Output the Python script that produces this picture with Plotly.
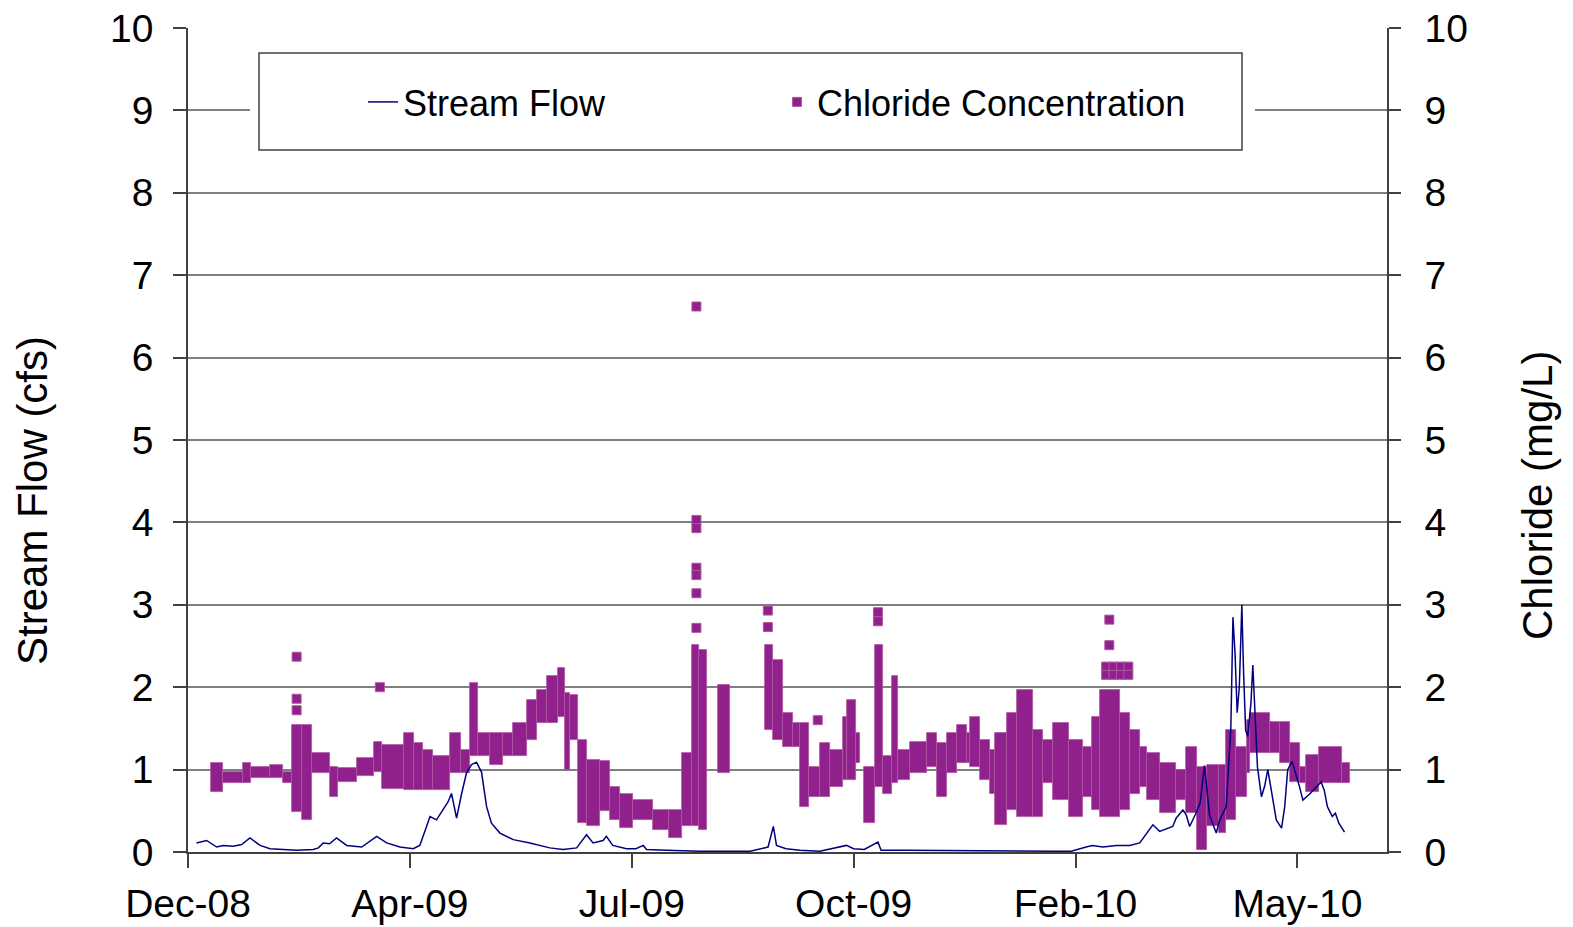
import pandas as pd
import plotly.graph_objects as go

# ---------------- data (days counted from 2008-12-20) ----------------
START = pd.Timestamp("2008-12-20")
END_DAY = 567.4

tick_dates = ["2008-12-20", "2009-04-04", "2009-07-18", "2009-10-31", "2010-02-13", "2010-05-29"]
tick_text = ["Dec-08", "Apr-09", "Jul-09", "Oct-09", "Feb-10", "May-10"]
y_ticks = [0, 1, 2, 3, 4, 5, 6, 7, 8, 9, 10]

# Stream flow (cfs)
flow_days = [4, 8.8, 13.6, 16.7, 21.4, 25.4, 29.3, 34.1, 38.8, 43.5,
             51.4, 59.3, 61.7, 64, 67, 70.3, 75.1, 82.2, 89.3, 94,
             100.3, 106.6, 109.7, 112.9, 114.5, 117.6, 120.8, 123.1, 124.7, 127.1,
             129.5, 131.8, 134.2, 136.5, 138.9, 141.3, 143.6, 147.6, 153.9, 161.8,
             171.2, 177.5, 183.9, 188.6, 191.7, 196.4, 198, 201, 207.5, 212,
             215.4, 217, 226.4, 242, 266, 274.5, 277, 278.5, 283, 289.6,
             299, 311.6, 315, 320, 326.5, 328, 340, 380, 410, 418,
             420.4, 425, 428, 433, 439.4, 445.7, 450.4, 452.8, 456.6, 459.8,
             463, 466, 467.6, 470.8, 472.4, 474, 477, 479, 481, 483.4,
             486.6, 488.1, 491.3, 493.5, 494.5, 495.5, 496.5, 497.5, 498, 498.7,
             499.5, 500.5, 501.5, 503, 503.9, 505, 506.1, 508, 509.5, 511,
             512.5, 515, 517.5, 519, 520.4, 522.5, 526, 527.6, 530.7, 533.8,
             536.2, 537.7, 539.2, 541.5, 543, 544.6, 547.3]
flow_cfs = [0.11, 0.14, 0.06, 0.08, 0.07, 0.09, 0.17, 0.08, 0.04, 0.03,
            0.02, 0.03, 0.05, 0.11, 0.10, 0.17, 0.08, 0.06, 0.19, 0.11,
            0.06, 0.04, 0.08, 0.31, 0.43, 0.39, 0.51, 0.61, 0.71, 0.41,
            0.71, 0.96, 1.06, 1.09, 0.97, 0.55, 0.35, 0.23, 0.15, 0.11,
            0.05, 0.03, 0.05, 0.21, 0.11, 0.14, 0.19, 0.08, 0.04, 0.04,
            0.08, 0.03, 0.02, 0.01, 0.01, 0.06, 0.31, 0.08, 0.04, 0.02,
            0.01, 0.08, 0.04, 0.03, 0.12, 0.02, 0.02, 0.01, 0.01, 0.01,
            0.03, 0.06, 0.08, 0.06, 0.08, 0.08, 0.11, 0.19, 0.33, 0.25,
            0.28, 0.31, 0.41, 0.51, 0.45, 0.31, 0.47, 0.60, 1.05, 0.45,
            0.23, 0.38, 0.55, 1.50, 2.85, 2.40, 1.69, 2.00, 2.40, 3.00,
            2.20, 1.48, 1.40, 1.80, 2.27, 1.69, 1.03, 0.67, 0.80, 1.00,
            0.75, 0.39, 0.29, 0.55, 1.00, 1.10, 0.79, 0.63, 0.70, 0.79,
            0.85, 0.75, 0.55, 0.43, 0.47, 0.35, 0.24]

# Chloride (mg/L): ranges of readings over consecutive periods
chl_day_from = [11, 16.7, 26, 30, 39, 45, 49, 54, 58.5, 67,
                71, 80, 88, 92, 102, 107, 111, 116, 124, 129,
                133.4, 137.2, 143, 149, 154, 160.5, 165, 170, 175, 178.4,
                180.7, 184.6, 188.6, 195, 199.6, 204.3, 210.5, 220, 227.8, 234,
                238.4, 242, 250.7, 273, 277, 281.6, 286.3, 289.6, 293.7, 299,
                304, 310, 312, 316, 320, 325, 328.8, 333, 336, 341.6,
                349.6, 354.3, 359, 363.7, 368.5, 370, 374.6, 379.3, 381.7, 387.4,
                392.2, 399.7, 404.5, 409.2, 417.1, 423.4, 428, 431.4, 441, 445.7,
                450.4, 453.6, 459.8, 467.7, 472.5, 477.3, 482, 488, 491, 496,
                501, 502.5, 512, 516.6, 521.4, 526, 529, 535, 546]
chl_day_to = [16.7, 26, 30, 39, 45, 49, 54, 58.5, 67, 71,
              80, 88, 92, 102, 107, 111, 116, 124, 129, 133.4,
              137.2, 143, 149, 154, 160.5, 165, 170, 175, 178.4, 180.7,
              184.6, 188.6, 195, 199.6, 204.3, 210.5, 220, 227.8, 234, 238.4,
              242, 245.5, 256.4, 277, 281.6, 286.3, 289.6, 293.7, 299, 304,
              310, 312, 316, 318, 325, 328.8, 333, 336, 341.6, 349.6,
              354.3, 359, 363.7, 368.5, 370, 374.6, 379.3, 381.7, 387.4, 392.2,
              399.7, 404.5, 409.2, 417.1, 423.4, 428, 431.4, 441, 445.7, 450.4,
              453.6, 459.8, 467.7, 472.5, 477.3, 482, 488, 491, 496, 501,
              502.5, 512, 516.6, 521.4, 526, 529, 535, 546, 550]
chl_min = [0.73, 0.84, 0.84, 0.90, 0.90, 0.84, 0.49, 0.39, 0.96, 0.67,
           0.85, 0.92, 0.97, 0.77, 0.75, 0.75, 0.75, 0.75, 0.96, 0.96,
           1.16, 1.16, 1.06, 1.16, 1.16, 1.36, 1.56, 1.56, 1.64, 1.00,
           1.36, 0.35, 0.31, 0.50, 0.39, 0.29, 0.39, 0.27, 0.17, 0.31,
           0.31, 0.27, 0.96, 1.48, 1.36, 1.27, 1.27, 0.55, 0.67, 0.67,
           0.79, 0.87, 0.87, 1.08, 0.35, 0.79, 0.71, 0.84, 0.87, 0.96,
           1.03, 0.67, 0.96, 1.08, 1.08, 1.03, 0.87, 0.71, 0.33, 0.51,
           0.43, 0.43, 0.84, 0.63, 0.43, 0.67, 0.51, 0.43, 0.51, 0.71,
           0.79, 0.63, 0.47, 0.63, 0.47, 0.03, 0.31, 0.23, 0.39, 0.67,
           0.96, 1.20, 1.20, 1.08, 0.85, 0.84, 0.73, 0.84, 0.84]
chl_max = [1.08, 0.97, 1.08, 1.03, 1.05, 0.97, 1.54, 1.54, 1.20, 1.03,
           1.02, 1.14, 1.33, 1.30, 1.44, 1.32, 1.24, 1.16, 1.44, 1.24,
           2.05, 1.44, 1.44, 1.44, 1.56, 1.84, 1.97, 2.13, 2.23, 1.93,
           1.90, 1.36, 1.12, 1.10, 0.79, 0.71, 0.63, 0.51, 0.51, 1.20,
           2.51, 2.45, 2.03, 2.51, 2.33, 1.69, 1.56, 1.56, 1.03, 1.32,
           1.24, 1.64, 1.84, 1.44, 1.03, 2.51, 1.16, 2.13, 1.24, 1.33,
           1.44, 1.32, 1.44, 1.54, 1.44, 1.64, 1.36, 1.24, 1.44, 1.69,
           1.97, 1.48, 1.36, 1.56, 1.36, 1.27, 1.64, 1.97, 1.69, 1.48,
           1.27, 1.20, 1.08, 1.00, 1.27, 1.03, 1.06, 1.06, 1.48, 1.27,
           1.60, 1.69, 1.58, 1.58, 1.32, 1.03, 1.18, 1.27, 1.08]

# Chloride (mg/L): individual readings standing apart from the main band
chl_pt_day = [51.4, 51.4, 51.4, 90.8, 240.6, 240.6, 240.6, 240.6, 240.6, 240.6,
              240.6, 274.4, 274.4, 298, 326.5, 326.5, 436, 436, 434.5, 438,
              441.5, 445, 434.5, 438, 441.5, 445]
chl_pt_val = [2.37, 1.86, 1.72, 2.00, 6.62, 4.03, 3.93, 3.45, 3.36, 3.14,
              2.72, 2.93, 2.73, 1.60, 2.91, 2.80, 2.82, 2.51, 2.25, 2.25,
              2.25, 2.25, 2.15, 2.15, 2.15, 2.15]

# ---------------- helpers ----------------
def to_date(days):
    return [START + pd.to_timedelta(d, unit="D") for d in days]

DAY_MS = 86400000.0
FONT = "Liberation Sans, Arial, sans-serif"
PL, PR, PT, PB = 188, 1387, 28, 852  # plot area in pixels
W, H = 1573, 927


def px_x(p):
    return (p - PL) / (PR - PL)


def px_y(p):
    return (PB - p) / (PB - PT)


CHL_COLOR = "#8F208C"
CHL_EDGE = "#B0579F"

fig = go.Figure()

# chloride band (range of readings in each period)
mid_days = [(a + b) / 2 for a, b in zip(chl_day_from, chl_day_to)]
fig.add_trace(go.Bar(
    x=to_date(mid_days),
    base=chl_min,
    y=[hi - lo for lo, hi in zip(chl_min, chl_max)],
    width=[(b - a) * DAY_MS for a, b in zip(chl_day_from, chl_day_to)],
    marker=dict(color=CHL_COLOR, line=dict(color=CHL_EDGE, width=0.8)),
    yaxis="y", showlegend=False, hoverinfo="skip",
))

# chloride isolated readings
fig.add_trace(go.Scatter(
    x=to_date(chl_pt_day), y=chl_pt_val, mode="markers",
    marker=dict(symbol="square", size=9, color=CHL_COLOR,
                line=dict(color=CHL_EDGE, width=1)),
    name="Chloride Concentration", yaxis="y", legendrank=2,
))

# stream flow line (drawn above chloride)
fig.add_trace(go.Scatter(
    x=to_date(flow_days), y=flow_cfs, mode="lines",
    line=dict(color="#000080", width=1.5),
    name="Stream Flow", yaxis="y2", legendrank=1,
))

AX = "#404040"
tickfont = dict(family=FONT, size=39, color="black")
titlefont = dict(family=FONT, size=42, color="black")

fig.update_layout(
    width=W, height=H,
    margin=dict(l=PL, r=W - PR, t=PT, b=H - PB),
    paper_bgcolor="white", plot_bgcolor="white",
    barmode="overlay", bargap=0,
    showlegend=True,
    xaxis=dict(
        type="date",
        range=[START, START + pd.to_timedelta(END_DAY, unit="D")],
        tickvals=tick_dates, ticktext=tick_text,
        ticks="outside", ticklen=14, tickwidth=1.5, tickcolor=AX,
        showline=True, linecolor=AX, linewidth=1.5,
        showgrid=False, zeroline=False, automargin=False,
        tickfont=tickfont, ticklabelstandoff=2,
    ),
    yaxis=dict(
        side="right", range=[0, 10], tickvals=y_ticks,
        ticks="outside", ticklen=12, tickwidth=1.5, tickcolor=AX,
        showline=True, linecolor=AX, linewidth=1.5,
        showgrid=True, gridcolor="#7f7f7f", gridwidth=1.5,
        zeroline=False, automargin=False,
        tickfont=tickfont, ticklabelstandoff=16,
    ),
    yaxis2=dict(
        side="left", overlaying="y", range=[0, 10], tickvals=y_ticks,
        ticks="outside", ticklen=13, tickwidth=1.5, tickcolor=AX,
        showline=True, linecolor=AX, linewidth=1.5,
        showgrid=False, zeroline=False, automargin=False,
        tickfont=tickfont, ticklabelstandoff=12,
    ),
    legend=dict(
        orientation="h", x=px_x(363), xanchor="left",
        y=px_y(102), yanchor="middle",
        bgcolor="rgba(0,0,0,0)", borderwidth=0,
        font=dict(family=FONT, size=36, color="black"),
        entrywidth=369, entrywidthmode="pixels",
    ),
    shapes=[
        dict(type="rect", xref="paper", yref="paper",
             x0=px_x(250), x1=px_x(1255), y0=px_y(152), y1=px_y(50),
             fillcolor="white", line=dict(width=0), layer="above"),
        dict(type="rect", xref="paper", yref="paper",
             x0=px_x(259), x1=px_x(1242), y0=px_y(150), y1=px_y(53),
             fillcolor="rgba(0,0,0,0)", line=dict(color=AX, width=1.5), layer="above"),
    ],
    annotations=[
        dict(text="Stream Flow (cfs)", textangle=-90, xref="paper", yref="paper",
             x=px_x(32), y=px_y(500), xanchor="center", yanchor="middle",
             showarrow=False, font=titlefont),
        dict(text="Chloride (mg/L)", textangle=-90, xref="paper", yref="paper",
             x=px_x(1537), y=px_y(496), xanchor="center", yanchor="middle",
             showarrow=False, font=titlefont),
    ],
)

fig.write_html("out.html")
